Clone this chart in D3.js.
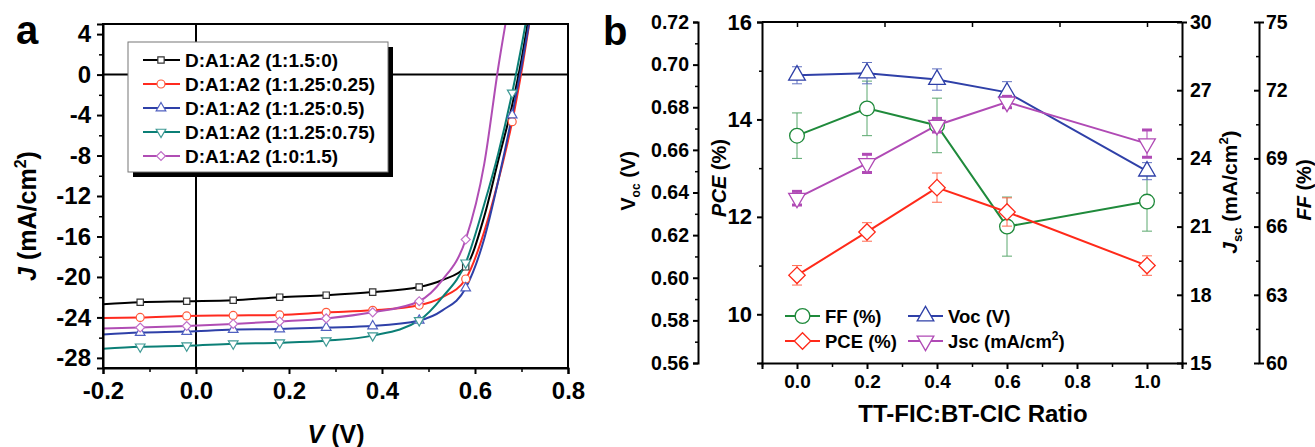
<!DOCTYPE html>
<html>
<head>
<meta charset="utf-8">
<script src="https://cdn.jsdelivr.net/npm/d3@7"></script>
<style>
body { margin: 0; background: #fff; }
svg { font-family: "Liberation Sans", Arial, sans-serif; font-weight: bold; }
</style>
</head>
<body>
<div id="chart"></div>
<script>
// ---- panel a: J-V curves ----
const jvVoltage = [-0.2, -0.12, -0.02, 0.08, 0.18, 0.28, 0.38, 0.48, 0.53, 0.58, 0.62, 0.65, 0.68, 0.70, 0.72];
const markerVoltage = [-0.12, -0.02, 0.08, 0.18, 0.28, 0.38, 0.48, 0.58, 0.68];
const lastMarkerVoltage = [0.58, 0.68, 0.68, 0.68, 0.68];
const jvNames = ["D:A1:A2 (1:1.5:0)", "D:A1:A2 (1:1.25:0.25)", "D:A1:A2 (1:1.25:0.5)", "D:A1:A2 (1:1.25:0.75)", "D:A1:A2 (1:0:1.5)"];
const jBlack  = [-22.7, -22.5, -22.4, -22.3, -22.0, -21.8, -21.5, -21.0, -20.3, -19.0, -14.0, -8.5, -3.0, 1.5, 7.0];
const jRed    = [-24.05, -24.0, -23.85, -23.8, -23.75, -23.5, -23.3, -22.8, -22.0, -20.2, -15.5, -10.5, -4.65, 0.3, 6.0];
const jBlue   = [-25.7, -25.5, -25.4, -25.2, -25.15, -25.0, -24.85, -24.3, -23.3, -21.1, -16.2, -10.5, -4.0, 0.8, 6.0];
const jTeal   = [-27.1, -26.9, -26.8, -26.6, -26.5, -26.3, -25.8, -24.3, -22.0, -18.6, -12.8, -7.8, -1.8, 2.8, 8.0];
const jPurple = [-25.1, -25.0, -24.85, -24.65, -24.4, -24.1, -23.5, -22.4, -20.3, -16.3, -8.8, 0.7, 9.0, 15.0, 21.0];
const jvXTicks = [-0.2, 0.0, 0.2, 0.4, 0.6, 0.8];
const jvYTicks = [-28, -24, -20, -16, -12, -8, -4, 0, 4];

// ---- panel b: device parameters vs ratio ----
const ratio = [0.0, 0.2, 0.4, 0.6, 1.0];
const ffValues = [70.0, 71.2, 70.45, 66.0, 67.1];
const ffErr = [1.0, 1.2, 1.2, 1.3, 1.3];
const vocValues = [0.695, 0.696, 0.693, 0.687, 0.650];
const vocErr = [0.004, 0.005, 0.005, 0.005, 0.004];
const pceValues = [10.8, 11.69, 12.6, 12.1, 11.0];
const pceErr = [0.2, 0.19, 0.3, 0.29, 0.2];
const jscValues = [22.25, 23.78, 25.46, 26.48, 24.65];
const jscErr = [0.3, 0.4, 0.3, 0.25, 0.6];
const ratioTicks = [0.0, 0.2, 0.4, 0.6, 0.8, 1.0];
const ratioTopTicks = [0.0, 0.25, 0.5, 0.75, 1.0];
const vocTicks = [0.56, 0.58, 0.60, 0.62, 0.64, 0.66, 0.68, 0.70, 0.72];
const pceTicks = [10, 12, 14, 16];
const jscTicks = [15, 18, 21, 24, 27, 30];
const ffTicks = [60, 63, 66, 69, 72, 75];

const svg = d3.select("#chart").append("svg")
    .attr("width", 1315)
    .attr("height", 447);

function marker(g, kind, x, y, size, stroke, sw) {
    let path, rot = 0;
    if (kind === "square") path = d3.symbol().type(d3.symbolSquare).size(size)();
    if (kind === "circle") path = d3.symbol().type(d3.symbolCircle).size(size)();
    if (kind === "triangle") path = d3.symbol().type(d3.symbolTriangle).size(size)();
    if (kind === "down") { path = d3.symbol().type(d3.symbolTriangle).size(size)(); rot = 180; }
    if (kind === "diamond") { path = d3.symbol().type(d3.symbolSquare).size(size)(); rot = 45; }
    g.append("path")
        .attr("d", path)
        .attr("transform", `translate(${x},${y}) rotate(${rot})`)
        .attr("fill", "white")
        .attr("stroke", stroke)
        .attr("stroke-width", sw);
}

function styleAxis(g, size) {
    g.select(".domain").attr("stroke-width", 2).attr("stroke", "#000");
    g.selectAll(".tick line").attr("stroke-width", 2).attr("stroke", "#000");
    g.selectAll("text").attr("font-size", size).attr("font-weight", "bold")
        .attr("font-family", '"Liberation Sans", Arial, sans-serif').attr("fill", "#000");
}

function minorAxis(g, axis) {
    g.call(axis.tickFormat(""));
    g.select(".domain").remove();
    g.selectAll(".tick line").attr("stroke-width", 1.5).attr("stroke", "#000");
}

// =================== Panel a ===================
const a = { left: 103, right: 568, top: 24, bottom: 368 };
const xA = d3.scaleLinear().domain([-0.2, 0.8]).range([a.left, a.right]);
const yA = d3.scaleLinear().domain([-29, 5]).range([a.bottom, a.top]);

svg.append("defs").append("clipPath").attr("id", "clipA")
    .append("rect").attr("x", a.left).attr("y", a.top)
    .attr("width", a.right - a.left).attr("height", a.bottom - a.top);

const gA = svg.append("g");

// zero lines
gA.append("line").attr("x1", xA(0)).attr("x2", xA(0)).attr("y1", a.top).attr("y2", a.bottom)
    .attr("stroke", "#000").attr("stroke-width", 2);
gA.append("line").attr("x1", a.left).attr("x2", a.right).attr("y1", yA(0)).attr("y2", yA(0))
    .attr("stroke", "#000").attr("stroke-width", 2);

const jvSeries = [
    { name: jvNames[0], values: jBlack, line: "#000000", mark: "#333333", kind: "square" },
    { name: jvNames[1], values: jRed, line: "#ff2a1f", mark: "#ff5a3c", kind: "circle" },
    { name: jvNames[2], values: jBlue, line: "#2e40a8", mark: "#5060c0", kind: "triangle" },
    { name: jvNames[3], values: jTeal, line: "#0b7f76", mark: "#3f9a95", kind: "down" },
    { name: jvNames[4], values: jPurple, line: "#b04db4", mark: "#c070c8", kind: "diamond" },
];
const markSize = { square: 40, circle: 50, triangle: 40, down: 40, diamond: 40 };

const lineA = d3.line().x(d => xA(d[0])).y(d => yA(d[1])).curve(d3.curveMonotoneX);
const curves = gA.append("g").attr("clip-path", "url(#clipA)");
jvSeries.forEach(s => {
    const pts = jvVoltage.map((v, i) => [v, s.values[i]]);
    curves.append("path").attr("d", lineA(pts))
        .attr("fill", "none").attr("stroke", s.line).attr("stroke-width", 2);
});
jvSeries.forEach((s, k) => {
    const mg = curves.append("g");
    jvVoltage.forEach((v, i) => {
        if (markerVoltage.includes(v) && v <= lastMarkerVoltage[k])
            marker(mg, s.kind, xA(v), yA(s.values[i]), markSize[s.kind], s.mark, 1.2);
    });
});

// frame
gA.append("rect").attr("x", a.left).attr("y", a.top)
    .attr("width", a.right - a.left).attr("height", a.bottom - a.top)
    .attr("fill", "none").attr("stroke", "#000").attr("stroke-width", 2);

const fmtA = d => d.toFixed(1);
const xAxA = gA.append("g").attr("transform", `translate(0,${a.bottom})`)
    .call(d3.axisBottom(xA).tickValues(jvXTicks).tickSize(6).tickPadding(8).tickFormat(fmtA));
styleAxis(xAxA, 24);
minorAxis(gA.append("g").attr("transform", `translate(0,${a.bottom})`),
    d3.axisBottom(xA).tickValues([-0.1, 0.1, 0.3, 0.5, 0.7]).tickSize(4));

const yAxA = gA.append("g").attr("transform", `translate(${a.left},0)`)
    .call(d3.axisLeft(yA).tickValues(jvYTicks).tickSize(6).tickPadding(6).tickFormat(d => String(d)));
styleAxis(yAxA, 24);
minorAxis(gA.append("g").attr("transform", `translate(${a.left},0)`),
    d3.axisLeft(yA).tickValues(d3.range(-26, 5, 4)).tickSize(4));

// axis titles
const jTitle = gA.append("text").attr("transform", "translate(36,216) rotate(-90)")
    .attr("text-anchor", "middle").attr("font-size", 25);
jTitle.append("tspan").attr("font-style", "italic").text("J");
jTitle.append("tspan").text(" (mA/cm");
jTitle.append("tspan").attr("font-size", 16).attr("dy", -10).text("2");
jTitle.append("tspan").attr("dy", 10).text(")");

const vTitle = gA.append("text").attr("x", 336).attr("y", 443)
    .attr("text-anchor", "middle").attr("font-size", 25);
vTitle.append("tspan").attr("font-style", "italic").text("V");
vTitle.append("tspan").text(" (V)");

// legend a
const legA = gA.append("g");
legA.append("rect").attr("x", 133).attr("y", 47).attr("width", 260).attr("height", 130).attr("fill", "#000");
legA.append("rect").attr("x", 128).attr("y", 42).attr("width", 260).attr("height", 130)
    .attr("fill", "#fff").attr("stroke", "#777").attr("stroke-width", 1);
jvSeries.forEach((s, i) => {
    const y = 60 + i * 24;
    legA.append("line").attr("x1", 143).attr("x2", 180).attr("y1", y).attr("y2", y)
        .attr("stroke", s.line).attr("stroke-width", 2);
    marker(legA, s.kind, 161, y, markSize[s.kind], s.mark, 1.2);
    legA.append("text").attr("x", 185).attr("y", y + 7).attr("font-size", 19).text(s.name);
});

svg.append("text").attr("x", 16).attr("y", 44).attr("font-size", 40).text("a");

// =================== Panel b ===================
const b = { left: 762, right: 1182, top: 22, bottom: 363 };
const xB = d3.scaleLinear().domain([-0.1, 1.1]).range([b.left, b.right]);
const yPce = d3.scaleLinear().domain([9, 16]).range([b.bottom, b.top]);
const yVoc = d3.scaleLinear().domain([0.56, 0.72]).range([b.bottom, b.top]);
const yJsc = d3.scaleLinear().domain([15, 30]).range([b.bottom, b.top]);
const yFf = d3.scaleLinear().domain([60, 75]).range([b.bottom, b.top]);

const gB = svg.append("g");

const bSeries = [
    { values: ffValues, err: ffErr, y: yFf, color: "#1f8a3b", errColor: "#5aa86e", kind: "circle", size: 170, cap: 1 },
    { values: vocValues, err: vocErr, y: yVoc, color: "#2f40a8", errColor: "#6272c0", kind: "triangle", size: 120, cap: 1 },
    { values: pceValues, err: pceErr, y: yPce, color: "#ff2a1a", errColor: "#ff6a50", kind: "diamond", size: 135, cap: 1 },
    { values: jscValues, err: jscErr, y: yJsc, color: "#b04ab5", errColor: "#b04ab5", kind: "down", size: 120, cap: 3 },
];

const lineB = ys => d3.line().x(d => xB(d[0])).y(d => ys(d[1]));
bSeries.forEach(s => {
    const pts = ratio.map((r, i) => [r, s.values[i]]);
    gB.append("path").attr("d", lineB(s.y)(pts))
        .attr("fill", "none").attr("stroke", s.color).attr("stroke-width", 2);
});
bSeries.forEach(s => {
    ratio.forEach((r, i) => {
        const x = xB(r), y1 = s.y(s.values[i] - s.err[i]), y2 = s.y(s.values[i] + s.err[i]);
        gB.append("line").attr("x1", x).attr("x2", x).attr("y1", y1).attr("y2", y2)
            .attr("stroke", s.errColor).attr("stroke-width", 1);
        [y1, y2].forEach(yy => gB.append("line").attr("x1", x - 5).attr("x2", x + 5)
            .attr("y1", yy).attr("y2", yy).attr("stroke", s.errColor).attr("stroke-width", s.cap));
    });
    ratio.forEach((r, i) => marker(gB, s.kind, xB(r), s.y(s.values[i]), s.size, s.color, 1.3));
});

// frame top line
gB.append("line").attr("x1", b.left).attr("x2", b.right).attr("y1", b.top).attr("y2", b.top)
    .attr("stroke", "#000").attr("stroke-width", 2);

// bottom axis
const xAxB = gB.append("g").attr("transform", `translate(0,${b.bottom})`)
    .call(d3.axisBottom(xB).tickValues(ratioTicks).tickSize(6).tickPadding(6).tickFormat(d => d.toFixed(1)));
styleAxis(xAxB, 19);
minorAxis(gB.append("g").attr("transform", `translate(0,${b.bottom})`),
    d3.axisBottom(xB).tickValues([-0.1, 0.1, 0.3, 0.5, 0.7, 0.9, 1.1]).tickSize(4));
// top ticks (inward)
minorAxis(gB.append("g").attr("transform", `translate(0,${b.top})`),
    d3.axisBottom(xB).tickValues(ratioTopTicks).tickSize(5));

// PCE axis (left spine)
const pceAx = gB.append("g").attr("transform", `translate(${b.left},0)`)
    .call(d3.axisLeft(yPce).tickValues(pceTicks).tickSize(5).tickPadding(5).tickFormat(d => String(d)));
styleAxis(pceAx, 22);
minorAxis(gB.append("g").attr("transform", `translate(${b.left},0)`),
    d3.axisLeft(yPce).tickValues([9, 11, 13, 15]).tickSize(3));

// Voc axis
const vocAx = gB.append("g").attr("transform", "translate(698,0)")
    .call(d3.axisLeft(yVoc).tickValues(vocTicks).tickSize(5).tickPadding(4).tickFormat(d => d.toFixed(2)));
styleAxis(vocAx, 19.5);
minorAxis(gB.append("g").attr("transform", "translate(698,0)"),
    d3.axisLeft(yVoc).tickValues(d3.range(0.57, 0.72, 0.02)).tickSize(3));

// Jsc axis (right spine, ticks inward)
const jscAx = gB.append("g").attr("transform", `translate(${b.right},0)`)
    .call(d3.axisRight(yJsc).tickValues(jscTicks).tickSize(5).tickPadding(3).tickFormat(d => String(d)));
styleAxis(jscAx, 19.5);
jscAx.selectAll(".tick line").attr("x2", -5);
minorAxis(gB.append("g").attr("transform", `translate(${b.right},0)`),
    d3.axisLeft(yJsc).tickValues(d3.range(16.5, 30, 3)).tickSize(3));

// FF axis
const ffAx = gB.append("g").attr("transform", "translate(1259,0)")
    .call(d3.axisRight(yFf).tickValues(ffTicks).tickSize(5).tickPadding(2).tickFormat(d => String(d)));
styleAxis(ffAx, 19.5);
ffAx.selectAll(".tick line").attr("x2", -5);
minorAxis(gB.append("g").attr("transform", "translate(1259,0)"),
    d3.axisLeft(yFf).tickValues(d3.range(61.5, 75, 3)).tickSize(3));

// axis titles
const vocT = gB.append("text").attr("transform", "translate(635,181) rotate(-90)")
    .attr("text-anchor", "middle").attr("font-size", 20);
vocT.append("tspan").text("V");
vocT.append("tspan").attr("font-size", 12).attr("dy", 5).text("oc");
vocT.append("tspan").attr("dy", -5).text(" (V)");

const pceT = gB.append("text").attr("transform", "translate(726,178) rotate(-90)")
    .attr("text-anchor", "middle").attr("font-size", 20);
pceT.append("tspan").attr("font-style", "italic").text("PCE");
pceT.append("tspan").text(" (%)");

const jscT = gB.append("text").attr("transform", "translate(1237,192) rotate(-90)")
    .attr("text-anchor", "middle").attr("font-size", 21);
jscT.append("tspan").attr("font-style", "italic").text("J");
jscT.append("tspan").attr("font-size", 13).attr("dy", 5).text("sc");
jscT.append("tspan").attr("dy", -5).text(" (mA/cm");
jscT.append("tspan").attr("font-size", 13).attr("dy", -9).text("2");
jscT.append("tspan").attr("dy", 9).text(")");

const ffT = gB.append("text").attr("transform", "translate(1311,190) rotate(-90)")
    .attr("text-anchor", "middle").attr("font-size", 20);
ffT.append("tspan").attr("font-style", "italic").text("FF");
ffT.append("tspan").text(" (%)");

gB.append("text").attr("x", 973).attr("y", 422).attr("text-anchor", "middle")
    .attr("font-size", 24).text("TT-FIC:BT-CIC Ratio");

// legend b
const legB = [
    { s: bSeries[0], x: 785, y: 316, label: ["FF (%)"] },
    { s: bSeries[1], x: 908, y: 316, label: ["Voc (V)"] },
    { s: bSeries[2], x: 785, y: 341, label: ["PCE (%)"] },
    { s: bSeries[3], x: 908, y: 341, label: ["Jsc (mA/cm", "2", ")"] },
];
legB.forEach(l => {
    gB.append("line").attr("x1", l.x).attr("x2", l.x + 35).attr("y1", l.y).attr("y2", l.y)
        .attr("stroke", l.s.color).attr("stroke-width", 2);
    marker(gB, l.s.kind, l.x + 17.5, l.y, l.s.size, l.s.color, 1.3);
    const t = gB.append("text").attr("x", l.x + 40).attr("y", l.y + 6.5).attr("font-size", 18.5);
    t.append("tspan").text(l.label[0]);
    if (l.label.length > 1) {
        t.append("tspan").attr("font-size", 12).attr("dy", -8).text(l.label[1]);
        t.append("tspan").attr("dy", 8).text(l.label[2]);
    }
});

svg.append("text").attr("x", 603).attr("y", 45).attr("font-size", 40).text("b");
</script>
</body>
</html>
